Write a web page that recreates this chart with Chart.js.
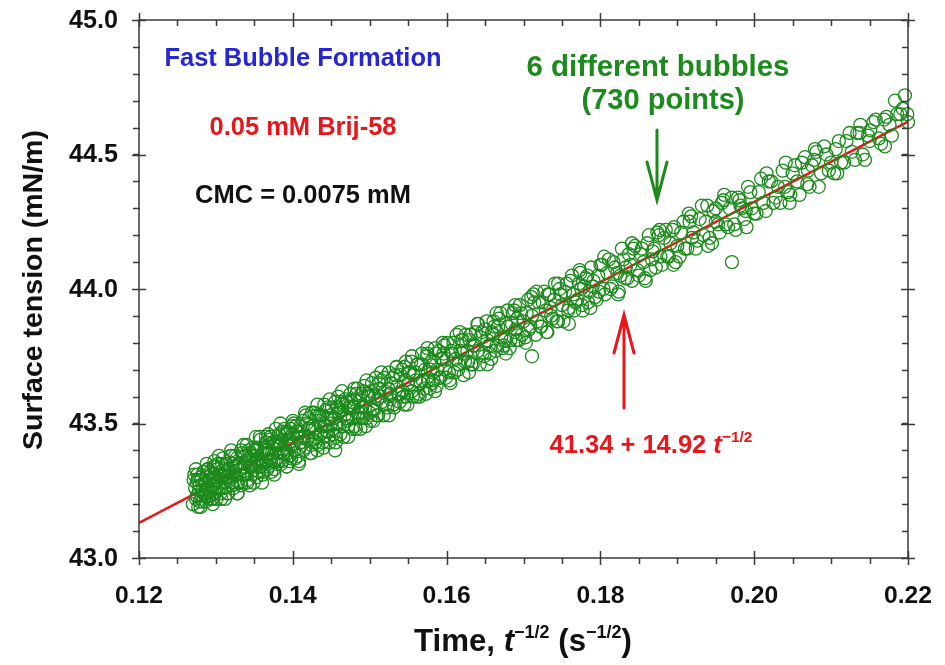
<!DOCTYPE html>
<html>
<head>
<meta charset="utf-8">
<title>Surface tension vs t^-1/2</title>
<script src="https://cdn.jsdelivr.net/npm/chart.js@4.4.1/dist/chart.umd.min.js"></script>
<style>
  html, body { margin: 0; padding: 0; background: #fff; }
  #wrap { width: 945px; height: 665px; }
</style>
</head>
<body>
<div id="wrap"><canvas id="st-chart" width="945" height="665"></canvas></div>
<script>
/* ===== Dynamic surface tension, fast bubble formation ===== */

// x: t^-1/2 (s^-1/2)
const invSqrtTime = [
  0.1270,0.1272,0.1273,0.1275,0.1276,0.1277,0.1279,0.1280,0.1281,0.1282,
  0.1284,0.1285,0.1286,0.1287,0.1288,0.1289,0.1290,0.1291,0.1292,0.1293,
  0.1294,0.1295,0.1296,0.1297,0.1298,0.1299,0.1300,0.1301,0.1302,0.1303,
  0.1305,0.1306,0.1308,0.1309,0.1310,0.1311,0.1313,0.1314,0.1315,0.1317,
  0.1318,0.1319,0.1321,0.1322,0.1323,0.1325,0.1326,0.1327,0.1329,0.1330,
  0.1331,0.1333,0.1334,0.1335,0.1337,0.1338,0.1339,0.1341,0.1342,0.1343,
  0.1345,0.1346,0.1347,0.1349,0.1350,0.1351,0.1353,0.1354,0.1355,0.1357,
  0.1358,0.1359,0.1361,0.1362,0.1363,0.1365,0.1366,0.1368,0.1369,0.1370,
  0.1372,0.1373,0.1375,0.1376,0.1377,0.1379,0.1380,0.1382,0.1383,0.1384,
  0.1386,0.1387,0.1389,0.1390,0.1391,0.1393,0.1394,0.1396,0.1397,0.1398,
  0.1400,
  0.1402,0.1404,0.1406,0.1407,0.1409,0.1411,0.1413,0.1415,0.1416,0.1418,
  0.1420,0.1422,0.1424,0.1425,0.1427,0.1429,0.1431,0.1433,0.1434,0.1436,
  0.1438,0.1440,0.1442,0.1443,0.1445,0.1447,0.1449,0.1451,0.1452,0.1454,
  0.1456,0.1458,0.1460,0.1461,0.1463,0.1465,0.1467,0.1469,0.1470,0.1472,
  0.1474,0.1476,0.1478,0.1479,0.1481,0.1483,0.1485,0.1487,0.1488,0.1490,
  0.1492,0.1494,0.1496,0.1497,0.1499,
  0.1502,0.1504,0.1507,0.1509,0.1512,0.1514,0.1516,0.1519,0.1521,0.1524,
  0.1526,0.1528,0.1531,0.1533,0.1536,0.1538,0.1540,0.1543,0.1545,0.1548,
  0.1550,0.1552,0.1555,0.1557,0.1560,0.1562,0.1564,0.1567,0.1569,0.1572,
  0.1574,0.1576,0.1579,0.1581,0.1584,0.1586,0.1588,0.1591,0.1593,0.1596,
  0.1598,0.1600,
  0.1603,0.1606,0.1609,0.1612,0.1615,0.1618,0.1621,0.1624,0.1627,0.1630,
  0.1632,0.1635,0.1638,0.1641,0.1644,0.1647,0.1650,0.1653,0.1656,0.1659,
  0.1662,0.1665,0.1668,0.1671,0.1674,0.1677,0.1680,0.1683,0.1686,0.1689,
  0.1692,0.1694,0.1697,0.1700,
  0.1704,0.1707,0.1711,0.1714,0.1718,0.1722,0.1725,0.1729,0.1732,0.1736,
  0.1740,0.1743,0.1747,0.1750,0.1754,0.1758,0.1761,0.1765,0.1768,0.1772,
  0.1776,0.1779,0.1783,0.1786,0.1790,0.1793,0.1797,0.1800,
  0.1804,0.1809,0.1813,0.1817,0.1822,0.1826,0.1830,0.1835,0.1839,0.1843,
  0.1848,0.1852,0.1856,0.1861,0.1865,0.1870,0.1874,0.1878,0.1883,0.1887,
  0.1891,0.1896,0.1900,
  0.1905,0.1910,0.1916,0.1921,0.1926,0.1932,0.1937,0.1942,0.1947,0.1953,
  0.1958,0.1963,0.1968,0.1974,0.1979,0.1984,0.1989,0.1995,0.2000,
  0.2006,0.2012,0.2019,0.2025,0.2031,0.2037,0.2044,0.2050,0.2056,0.2062,
  0.2069,0.2075,0.2081,0.2087,0.2094,0.2100,
  0.2106,0.2113,0.2120,0.2127,0.2134,0.2141,0.2148,0.2155,0.2162,0.2169,
  0.2176,0.2183,0.2190,0.2196,0.2200,
  // stray points off the band
  0.1455,0.1711,0.1971,0.1710,
  // interleaved bubbles
  0.1271,0.1274,0.1276,0.1278,0.1279,0.1281,0.1283,0.1284,0.1286,0.1287,
  0.1289,0.1290,0.1291,0.1293,0.1294,0.1296,0.1297,0.1298,0.1299,0.1300,
  0.1301,0.1302,0.1303,0.1304,0.1275,
  0.1307,0.1309,0.1312,0.1313,0.1316,0.1317,0.1320,0.1321,0.1324,0.1325,
  0.1328,0.1329,0.1332,0.1333,0.1336,0.1337,0.1340,0.1341,0.1344,0.1345,
  0.1348,0.1349,0.1352,0.1353,0.1356,0.1357,0.1360,0.1361,0.1364,0.1365,
  0.1367,0.1368,0.1371,0.1372,0.1374,0.1375,0.1378,0.1379,0.1381,0.1382,
  0.1385,0.1386,0.1388,0.1389,0.1392,0.1393,0.1395,0.1396,0.1399,0.1398,
  0.1310,0.1319,0.1327,0.1335,0.1343,0.1352,0.1359,0.1366,0.1374,0.1381,
  0.1388,0.1395,0.1315,0.1347,0.1378,
  0.1401,0.1403,0.1405,0.1408,0.1410,0.1412,0.1414,0.1417,0.1419,0.1421,
  0.1423,0.1426,0.1428,0.1430,0.1432,0.1435,0.1437,0.1439,0.1441,0.1444,
  0.1446,0.1448,0.1450,0.1453,0.1455,0.1457,0.1459,0.1462,0.1464,0.1466,
  0.1468,0.1471,0.1473,0.1475,0.1477,0.1480,0.1482,0.1484,0.1486,0.1489,
  0.1491,0.1493,0.1495,0.1498,0.1500,0.1410,0.1420,0.1430,0.1440,0.1450,
  0.1460,0.1470,0.1480,0.1490,0.1445,
  0.1501,0.1503,0.1506,0.1508,0.1511,0.1513,0.1515,0.1518,0.1520,0.1523,
  0.1525,0.1527,0.1530,0.1532,0.1535,0.1537,0.1539,0.1542,0.1544,0.1547,
  0.1549,0.1551,0.1554,0.1556,0.1559,0.1561,0.1563,0.1566,0.1568,0.1571,
  0.1573,0.1575,0.1578,0.1580,0.1583,0.1585,0.1587,0.1590,0.1592,0.1595,
  0.1597,0.1599,0.1510,0.1546,0.1582,
  0.1601,0.1604,0.1607,0.1610,0.1613,0.1616,0.1619,0.1622,0.1625,0.1628,
  0.1631,0.1634,0.1637,0.1640,0.1643,0.1646,0.1649,0.1652,0.1655,0.1658,
  0.1661,0.1664,0.1667,0.1670,0.1673,0.1676,0.1679,0.1682,0.1685,0.1688,
  0.1691,0.1695,0.1698,0.1620,0.1660,0.1690,
  0.1702,0.1706,0.1709,0.1713,0.1716,0.1720,0.1723,0.1727,0.1730,0.1734,
  0.1738,0.1741,0.1745,0.1748,0.1752,0.1756,0.1759,0.1763,0.1766,0.1770,
  0.1774,0.1777,0.1781,0.1784,0.1788,0.1791,0.1795,0.1798,0.1735,0.1775,
  0.1802,0.1806,0.1811,0.1815,0.1819,0.1824,0.1828,0.1832,0.1837,0.1841,
  0.1845,0.1850,0.1854,0.1858,0.1863,0.1867,0.1872,0.1876,0.1880,0.1885,
  0.1889,0.1894,0.1898,0.1833,0.1868,
  0.1903,0.1908,0.1913,0.1918,0.1924,0.1929,0.1934,0.1939,0.1945,0.1950,
  0.1955,0.1960,0.1966,0.1971,0.1976,0.1981,0.1987,0.1992,0.1997,0.1919,
  0.1950,0.1982,
  0.2003,0.2009,0.2015,0.2022,0.2028,0.2034,0.2041,0.2047,0.2053,0.2059,
  0.2066,0.2072,0.2078,0.2084,0.2091,0.2097,0.2040,0.2070,
  0.2104,0.2110,0.2117,0.2124,0.2131,0.2137,0.2144,0.2151,0.2158,0.2165,
  0.2172,0.2179,0.2186,0.2193,0.2199,0.2150,
  // points along the upper and lower edges of the band
  0.1274,0.1280,0.1288,0.1296,0.1304,0.1312,0.1320,0.1328,0.1336,0.1344,
  0.1352,0.1360,0.1368,0.1376,0.1384,0.1392,0.1400,0.1408,0.1416,0.1424,
  0.1432,0.1440,0.1448,0.1456,0.1464,0.1472,0.1480,0.1488,0.1496,0.1505,
  0.1515,0.1525,0.1535,0.1545,0.1555,0.1565,0.1575,0.1585,0.1595,0.1605,
  0.1617,0.1629,0.1641,0.1653,0.1665,0.1677,0.1689,0.1703,0.1717,0.1731,
  0.1745,0.1759,0.1773,0.1787,0.1805,0.1823,0.1841,0.1859,0.1877,0.1895,
  0.1915,0.1940,0.1961,0.1990,0.2016,0.2046,0.2079,0.2108,0.2138,0.2170
];

// y: surface tension (mN/m)
const surfaceTension = [
  43.20,43.31,43.26,43.23,43.29,43.19,43.27,43.30,43.22,43.25,
  43.32,43.24,43.28,43.21,43.30,43.26,43.33,43.23,43.29,43.25,
  43.31,43.27,43.22,43.34,43.28,43.24,43.30,43.26,43.33,43.29,
  43.31,43.24,43.35,43.28,43.33,43.26,43.30,43.35,43.24,43.32,
  43.29,43.38,43.28,43.35,43.26,43.34,43.31,43.37,43.28,43.35,
  43.33,43.27,43.39,43.31,43.35,43.38,43.31,43.29,43.36,43.40,
  43.34,43.38,43.31,43.35,43.40,43.34,43.30,43.40,43.37,43.34,
  43.44,43.36,43.39,43.32,43.40,43.43,43.36,43.34,43.39,43.44,
  43.36,43.39,43.43,43.33,43.42,43.39,43.45,43.36,43.43,43.42,
  43.36,43.47,43.39,43.41,43.46,43.39,43.44,43.36,43.48,43.42,
  43.46,
  43.40,43.49,43.45,43.38,43.47,43.43,43.51,43.45,43.41,43.50,
  43.45,43.48,43.42,43.54,43.44,43.48,43.53,43.42,43.51,43.46,
  43.53,43.45,43.49,43.55,43.49,43.45,43.52,43.56,43.48,43.52,
  43.45,43.56,43.50,43.55,43.58,43.49,43.53,43.52,43.58,43.49,
  43.56,43.58,43.52,43.56,43.49,43.61,43.54,43.59,43.52,43.56,
  43.62,43.56,43.52,43.60,43.60,
  43.62,43.55,43.60,43.53,43.65,43.60,43.58,43.67,43.57,43.63,
  43.61,43.65,43.57,43.68,43.64,43.61,43.68,43.62,43.71,43.60,
  43.65,43.69,43.62,43.68,43.66,43.72,43.61,43.72,43.66,43.70,
  43.75,43.66,43.70,43.65,43.73,43.76,43.70,43.67,43.74,43.76,
  43.70,43.74,
  43.69,43.77,43.80,43.74,43.70,43.77,43.81,43.73,43.77,43.81,
  43.72,43.79,43.84,43.77,43.82,43.76,43.85,43.81,43.76,43.84,
  43.86,43.79,43.89,43.82,43.79,43.87,43.86,43.81,43.91,43.84,
  43.89,43.81,43.91,43.88,
  43.91,43.85,43.90,43.95,43.88,43.86,43.95,43.92,43.98,43.90,
  43.96,43.88,44.00,43.94,43.99,43.92,44.03,43.98,43.95,44.02,
  43.94,44.01,44.05,43.99,44.01,43.97,44.05,44.09,
  44.00,44.06,44.00,44.10,44.06,44.05,44.11,44.04,44.09,44.15,
  44.07,44.13,44.10,44.17,44.07,44.15,44.21,44.12,44.19,44.12,
  44.17,44.23,44.16,
  44.21,44.15,44.25,44.21,44.18,44.31,44.25,44.19,44.29,44.24,
  44.32,44.24,44.30,44.24,44.34,44.30,44.29,44.36,44.28,
  44.36,44.32,44.40,44.32,44.38,44.44,44.36,44.43,44.40,44.47,
  44.39,44.46,44.51,44.43,44.50,44.47,
  44.52,44.47,44.55,44.51,44.58,44.50,44.57,44.62,44.56,44.63,
  44.61,44.70,44.65,44.72,44.62,
  // stray points off the band
  43.40,43.75,44.10,43.97,
  // interleaved bubbles
  43.29,43.22,43.31,43.25,43.21,43.29,43.21,43.32,43.27,43.23,
  43.33,43.22,43.29,43.32,43.22,43.30,43.27,43.36,43.24,43.34,
  43.22,43.29,43.35,43.26,43.28,
  43.22,43.37,43.28,43.35,43.24,43.33,43.38,43.27,43.32,43.38,
  43.24,43.35,43.28,43.40,43.34,43.31,43.42,43.28,43.39,43.34,
  43.41,43.28,43.38,43.41,43.32,43.45,43.35,43.31,43.41,43.45,
  43.33,43.39,43.45,43.32,43.43,43.36,43.48,43.35,43.42,43.46,
  43.35,43.44,43.39,43.48,43.34,43.47,43.42,43.38,43.49,43.37,
  43.31,43.30,43.34,43.31,43.37,43.36,43.34,43.39,43.38,43.42,
  43.39,43.43,43.30,43.34,43.43,
  43.50,43.37,43.47,43.36,43.49,43.45,43.40,43.53,43.44,43.52,
  43.39,43.49,43.54,43.43,43.40,43.53,43.49,43.43,43.57,43.47,
  43.56,43.43,43.53,43.46,43.58,43.50,43.60,43.46,43.57,43.45,
  43.59,43.51,43.56,43.61,43.48,43.59,43.48,43.63,43.54,43.61,
  43.52,43.64,43.49,43.61,43.54,43.43,43.48,43.45,43.50,43.50,
  43.54,43.52,43.56,43.54,43.52,
  43.51,43.65,43.55,43.67,43.53,43.63,43.66,43.53,43.62,43.56,
  43.69,43.59,43.67,43.56,43.71,43.61,43.58,43.70,43.60,43.73,
  43.57,43.69,43.73,43.60,43.69,43.60,43.72,43.65,43.76,43.63,
  43.61,43.76,43.63,43.73,43.66,43.78,43.64,43.77,43.67,43.74,
  43.79,43.67,43.59,43.66,43.69,
  43.80,43.66,43.76,43.69,43.83,43.72,43.81,43.68,43.83,43.73,
  43.83,43.72,43.79,43.87,43.72,43.84,43.75,43.88,43.79,43.74,
  43.88,43.77,43.86,43.91,43.78,43.81,43.92,43.78,43.87,43.92,
  43.81,43.94,43.83,43.76,43.83,43.85,
  43.82,43.96,43.86,43.98,43.83,43.95,43.86,43.99,43.84,43.98,
  43.89,44.02,43.88,43.98,43.88,44.02,43.93,44.05,43.92,43.96,
  44.06,43.92,44.04,43.95,44.08,44.03,43.96,43.99,43.93,44.00,
  44.09,43.98,44.11,44.01,44.08,43.99,44.15,44.04,44.13,44.03,
  44.16,44.05,44.15,44.04,44.20,44.11,44.08,44.20,44.09,44.22,
  44.12,44.22,44.10,44.08,44.14,
  44.12,44.25,44.15,44.27,44.15,44.26,44.20,44.31,44.17,44.30,
  44.21,44.33,44.23,44.34,44.22,44.33,44.26,44.38,44.30,44.19,
  44.25,44.31,
  44.28,44.41,44.29,44.40,44.34,44.32,44.47,44.35,44.46,44.35,
  44.49,44.38,44.48,44.38,44.53,44.44,44.38,44.44,
  44.43,44.55,44.47,44.58,44.48,44.58,44.48,44.59,44.63,44.54,
  44.64,44.57,44.65,44.67,44.65,44.55,
  // points along the upper and lower edges of the band
  43.33,43.19,43.35,43.20,43.38,43.22,43.40,43.24,43.42,43.27,
  43.45,43.28,43.46,43.31,43.50,43.34,43.51,43.35,43.54,43.39,
  43.57,43.41,43.59,43.43,43.62,43.45,43.63,43.48,43.66,43.51,
  43.69,43.53,43.71,43.57,43.75,43.60,43.78,43.62,43.80,43.65,
  43.84,43.69,43.87,43.72,43.91,43.76,43.94,43.80,43.99,43.84,
  44.02,43.87,44.07,43.93,44.12,43.98,44.17,44.03,44.22,44.09,
  44.28,44.16,44.35,44.23,44.43,44.32,44.52,44.43,44.61,44.53
];

// Linear fit: gamma = 41.34 + 14.92 t^-1/2
const fitIntercept = 41.34;
const fitSlope = 14.92;
const fitRange = [0.12, 0.22];

const xTickLabels = ['0.12', '0.14', '0.16', '0.18', '0.20', '0.22'];
const yTickLabels = ['43.0', '43.5', '44.0', '44.5', '45.0'];
const xMinorStep = 0.005;
const yMinorStep = 0.1;

const COLORS = {
  green: '#1c8a1c',
  red: '#e8161b',
  blue: '#2626d4',
  axis: '#3a3a3a',
  text: '#111111'
};
const FONT = "'Liberation Sans', Arial, Helvetica, sans-serif";

const scatterData = invSqrtTime.map((x, i) => ({ x: x, y: surfaceTension[i] }));
const fitData = fitRange.map(x => ({ x: x, y: fitIntercept + fitSlope * x }));

// draw text with its font size picked so it spans the given width
function fitText(ctx, text, x, y, width, style, color, align) {
  ctx.save();
  ctx.font = `${style} 20px ${FONT}`;
  const size = 20 * width / ctx.measureText(text).width;
  ctx.font = `${style} ${size.toFixed(2)}px ${FONT}`;
  ctx.fillStyle = color;
  ctx.textBaseline = 'middle';
  ctx.textAlign = align || 'left';
  ctx.fillText(text, x, y);
  ctx.restore();
}

// runs of text with their own font and vertical shift (superscripts), scaled to a width
function richText(ctx, parts, cx, baseline, width) {
  ctx.save();
  ctx.textBaseline = 'alphabetic';
  ctx.textAlign = 'left';
  let natural = 0;
  parts.forEach(p => { ctx.font = p.font; natural += ctx.measureText(p.t).width; });
  const s = width / natural;
  ctx.translate(cx - width / 2, baseline);
  ctx.scale(s, s);
  let pos = 0;
  parts.forEach(p => {
    ctx.font = p.font;
    ctx.fillStyle = p.color;
    ctx.fillText(p.t, pos, p.dy || 0);
    pos += ctx.measureText(p.t).width;
  });
  ctx.restore();
}

function arrow(ctx, x, y0, y1, color) {
  // open V head at y1
  const dir = y1 > y0 ? 1 : -1;
  ctx.save();
  ctx.strokeStyle = color;
  ctx.lineWidth = 3;
  ctx.lineCap = 'round';
  ctx.beginPath();
  ctx.moveTo(x, y0);
  ctx.lineTo(x, y1);
  ctx.moveTo(x - 10, y1 - dir * 38);
  ctx.lineTo(x, y1);
  ctx.lineTo(x + 10, y1 - dir * 38);
  ctx.stroke();
  ctx.restore();
}

const framePlugin = {
  id: 'frame',
  afterDraw(chart) {
    const ctx = chart.ctx;
    const a = chart.chartArea;
    const xs = chart.scales.x, ys = chart.scales.y;

    ctx.save();
    ctx.strokeStyle = COLORS.axis;
    ctx.lineWidth = 1.5;
    ctx.strokeRect(a.left, a.top, a.right - a.left, a.bottom - a.top);

    ctx.beginPath();
    // minor ticks
    for (let v = xs.min; v <= xs.max + 1e-9; v += xMinorStep) {
      const px = Math.round(xs.getPixelForValue(v)) + 0.5;
      ctx.moveTo(px, a.bottom); ctx.lineTo(px, a.bottom + 6);
      ctx.moveTo(px, a.top); ctx.lineTo(px, a.top + 6);
    }
    for (let v = ys.min; v <= ys.max + 1e-9; v += yMinorStep) {
      const py = Math.round(ys.getPixelForValue(v)) + 0.5;
      ctx.moveTo(a.left - 6, py); ctx.lineTo(a.left + 1, py);
      ctx.moveTo(a.right - 6, py); ctx.lineTo(a.right, py);
    }
    // major ticks cross the frame
    xTickLabels.forEach(t => {
      const px = Math.round(xs.getPixelForValue(parseFloat(t))) + 0.5;
      ctx.moveTo(px, a.bottom - 7); ctx.lineTo(px, a.bottom + 7);
      ctx.moveTo(px, a.top - 7); ctx.lineTo(px, a.top + 7);
    });
    yTickLabels.forEach(t => {
      const py = Math.round(ys.getPixelForValue(parseFloat(t))) + 0.5;
      ctx.moveTo(a.left - 7, py); ctx.lineTo(a.left + 7, py);
      ctx.moveTo(a.right - 7, py); ctx.lineTo(a.right + 7, py);
    });
    ctx.stroke();
    ctx.restore();

    // tick labels
    xTickLabels.forEach(t => {
      fitText(ctx, t, xs.getPixelForValue(parseFloat(t)), 596, 48, 'bold', COLORS.text, 'center');
    });
    yTickLabels.forEach(t => {
      fitText(ctx, t, 118, ys.getPixelForValue(parseFloat(t)) + 1, 49, 'bold', COLORS.text, 'right');
    });

    // axis titles
    const big = `bold 26px ${FONT}`, sup = `bold 15px ${FONT}`;
    richText(ctx, [
      { t: 'Time, ', font: big, color: COLORS.text },
      { t: 't', font: `italic bold 26px ${FONT}`, color: COLORS.text },
      { t: '\u22121/2', font: sup, color: COLORS.text, dy: -11 },
      { t: ' (s', font: big, color: COLORS.text },
      { t: '\u22121/2', font: sup, color: COLORS.text, dy: -11 },
      { t: ')', font: big, color: COLORS.text }
    ], 523, 651, 218);

    ctx.save();
    ctx.translate(34, 290);
    ctx.rotate(-Math.PI / 2);
    fitText(ctx, 'Surface tension (mN/m)', 0, 0, 320, 'bold', COLORS.text, 'center');
    ctx.restore();

    // annotations
    fitText(ctx, 'Fast Bubble Formation', 303, 59, 277, 'bold', COLORS.blue, 'center');
    fitText(ctx, '0.05 mM Brij-58', 303, 128, 187, 'bold', COLORS.red, 'center');
    fitText(ctx, 'CMC = 0.0075 mM', 303, 196, 216, 'bold', COLORS.text, 'center');
    fitText(ctx, '6 different bubbles', 658, 68, 263, 'bold', COLORS.green, 'center');
    fitText(ctx, '(730 points)', 663, 101, 163, 'bold', COLORS.green, 'center');
    arrow(ctx, 657, 130, 200, COLORS.green);
    arrow(ctx, 624, 408, 315, COLORS.red);

    richText(ctx, [
      { t: '41.34 + 14.92 ', font: `bold 23px ${FONT}`, color: COLORS.red },
      { t: 't', font: `italic bold 23px ${FONT}`, color: COLORS.red },
      { t: '\u22121/2', font: `bold 14px ${FONT}`, color: COLORS.red, dy: -10 }
    ], 651, 453, 203);
  }
};

const ctx = document.getElementById('st-chart').getContext('2d');
new Chart(ctx, {
  type: 'scatter',
  data: {
    datasets: [
      {
        label: 'Fit',
        data: fitData,
        showLine: true,
        borderColor: COLORS.red,
        borderWidth: 2.5,
        pointRadius: 0,
        order: 2
      },
      {
        label: 'Data',
        data: scatterData,
        pointStyle: 'circle',
        pointRadius: 6.5,
        pointBorderWidth: 1.3,
        borderColor: COLORS.green,
        backgroundColor: 'rgba(0,0,0,0)',
        clip: false,
        order: 1
      }
    ]
  },
  options: {
    responsive: false,
    animation: false,
    events: [],
    layout: {
      autoPadding: false,
      padding: { left: 139, right: 37, top: 20, bottom: 107 }
    },
    plugins: {
      legend: { display: false },
      tooltip: { enabled: false }
    },
    scales: {
      x: { type: 'linear', min: 0.12, max: 0.22, display: false },
      y: { type: 'linear', min: 43.0, max: 45.0, display: false }
    }
  },
  plugins: [framePlugin]
});
</script>
</body>
</html>
